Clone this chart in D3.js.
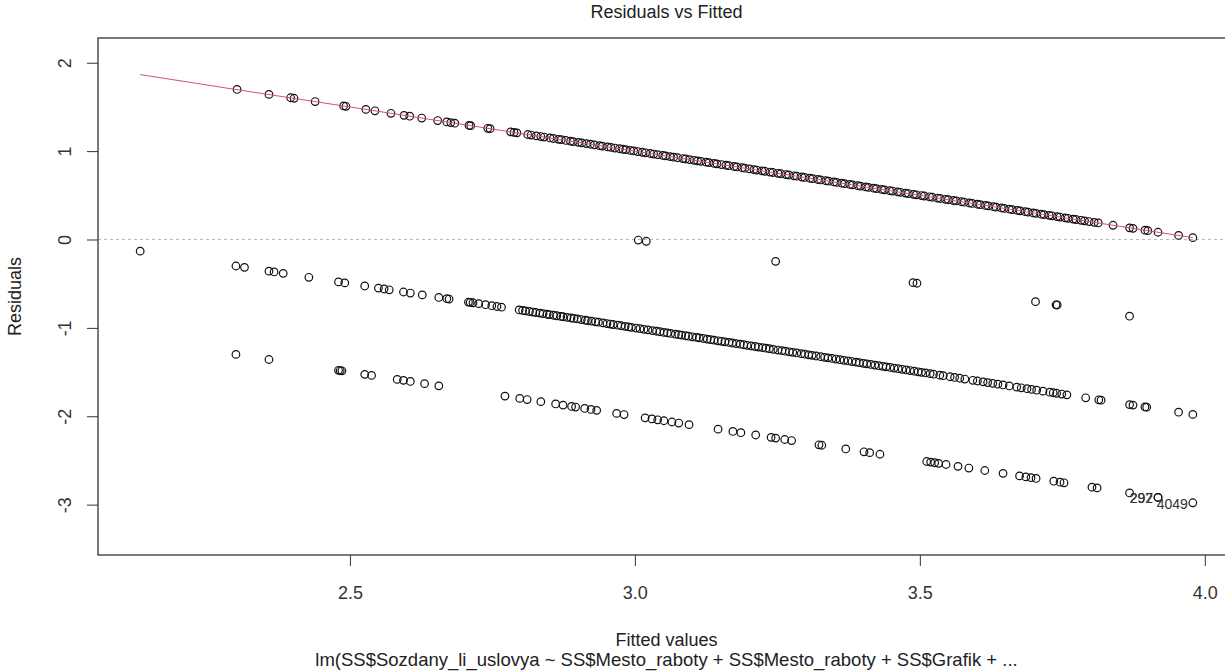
<!DOCTYPE html>
<html>
<head>
<meta charset="utf-8">
<script src="https://cdn.jsdelivr.net/npm/d3@7"></script>
<style>
  body { margin: 0; background: #fff; }
  svg { display: block; font-family: "Liberation Sans", Arial, sans-serif; }
</style>
</head>
<body>
<div id="chart"></div>
<script>
// fitted values of the observations, grouped by the observed response (1..4)
const fittedObs4 = [2.302, 2.358, 2.396, 2.402, 2.439, 2.489, 2.493, 2.528, 2.544, 2.572, 2.595, 2.605,
    2.626, 2.654, 2.670, 2.677, 2.684, 2.709, 2.712, 2.742, 2.746, 2.782, 2.788, 2.793, 2.812, 2.818,
    2.827, 2.835, 2.841, 2.851, 2.857, 2.866, 2.871, 2.879, 2.887, 2.892, 2.901, 2.907, 2.915, 2.922,
    2.929, 2.938, 2.943, 2.952, 2.958, 2.965, 2.973, 2.979, 2.984, 2.992, 2.998, 3.005, 3.013, 3.019,
    3.027, 3.033, 3.040, 3.049, 3.054, 3.062, 3.068, 3.075, 3.084, 3.089, 3.096, 3.104, 3.110, 3.116,
    3.125, 3.130, 3.139, 3.144, 3.152, 3.160, 3.165, 3.174, 3.179, 3.188, 3.193, 3.201, 3.209, 3.214,
    3.223, 3.228, 3.237, 3.242, 3.251, 3.256, 3.265, 3.270, 3.279, 3.284, 3.293, 3.298, 3.307, 3.312,
    3.321, 3.326, 3.335, 3.340, 3.349, 3.354, 3.363, 3.368, 3.377, 3.382, 3.391, 3.396, 3.405, 3.410,
    3.419, 3.424, 3.433, 3.438, 3.447, 3.452, 3.461, 3.466, 3.475, 3.480, 3.489, 3.494, 3.503, 3.508,
    3.517, 3.522, 3.531, 3.536, 3.545, 3.550, 3.559, 3.564, 3.573, 3.578, 3.587, 3.592, 3.601, 3.606,
    3.615, 3.620, 3.629, 3.634, 3.643, 3.648, 3.657, 3.662, 3.671, 3.676, 3.685, 3.690, 3.699, 3.704,
    3.713, 3.718, 3.727, 3.732, 3.741, 3.746, 3.755, 3.760, 3.769, 3.774, 3.783, 3.789, 3.797, 3.806,
    3.813, 3.839, 3.868, 3.874, 3.895, 3.900, 3.918, 3.954, 3.979];

const fittedObs3 = [3.006, 3.020, 3.247, 3.488, 3.495, 3.703, 3.739, 3.741, 3.868];

const fittedObs2 = [2.132, 2.300, 2.315, 2.358, 2.367, 2.383, 2.428, 2.480, 2.491, 2.526, 2.550, 2.560,
    2.569, 2.594, 2.606, 2.627, 2.656, 2.670, 2.674, 2.708, 2.711, 2.716, 2.726, 2.738, 2.749, 2.758,
    2.766, 2.797, 2.803, 2.808, 2.815, 2.821, 2.826, 2.833, 2.839, 2.846, 2.850, 2.857, 2.863, 2.870,
    2.874, 2.881, 2.888, 2.893, 2.899, 2.906, 2.913, 2.917, 2.924, 2.931, 2.936, 2.944, 2.951, 2.957,
    2.962, 2.970, 2.976, 2.983, 2.989, 2.994, 3.002, 3.009, 3.016, 3.023, 3.031, 3.038, 3.044, 3.051,
    3.057, 3.063, 3.071, 3.077, 3.082, 3.089, 3.094, 3.101, 3.108, 3.113, 3.120, 3.127, 3.133, 3.139,
    3.146, 3.152, 3.158, 3.165, 3.171, 3.178, 3.185, 3.191, 3.197, 3.204, 3.211, 3.217, 3.224, 3.230,
    3.236, 3.243, 3.251, 3.258, 3.264, 3.271, 3.277, 3.284, 3.292, 3.298, 3.305, 3.311, 3.318, 3.326,
    3.333, 3.339, 3.346, 3.353, 3.360, 3.367, 3.374, 3.381, 3.388, 3.394, 3.401, 3.407, 3.414, 3.421,
    3.428, 3.435, 3.441, 3.448, 3.455, 3.462, 3.469, 3.476, 3.483, 3.490, 3.497, 3.503, 3.510, 3.518,
    3.524, 3.535, 3.541, 3.553, 3.561, 3.570, 3.579, 3.593, 3.601, 3.611, 3.619, 3.628, 3.637, 3.646,
    3.657, 3.670, 3.678, 3.688, 3.696, 3.705, 3.716, 3.728, 3.734, 3.740, 3.749, 3.758, 3.791, 3.814,
    3.818, 3.868, 3.874, 3.895, 3.898, 3.954, 3.979];

const fittedObs1 = [2.300, 2.358, 2.480, 2.483, 2.486, 2.526, 2.538, 2.583, 2.594, 2.606, 2.631, 2.656,
    2.772, 2.798, 2.811, 2.835, 2.861, 2.874, 2.889, 2.896, 2.912, 2.923, 2.933, 2.968, 2.981, 3.018,
    3.030, 3.040, 3.051, 3.065, 3.077, 3.095, 3.146, 3.172, 3.186, 3.212, 3.239, 3.247, 3.263, 3.275,
    3.323, 3.328, 3.370, 3.402, 3.412, 3.430, 3.512, 3.519, 3.526, 3.533, 3.546, 3.567, 3.586, 3.614,
    3.646, 3.675, 3.686, 3.695, 3.704, 3.735, 3.746, 3.753, 3.802, 3.811, 3.868, 3.918, 3.918, 3.979];

// red smoother
const smoothFitted = [2.132, 2.302, 2.500, 2.750, 3.000, 3.250, 3.500, 3.750, 3.979];
const smoothResid = [1.866, 1.695, 1.500, 1.250, 1.000, 0.750, 0.500, 0.250, 0.021];

// labelled extreme points
const idLabels = ["297", "292", "4049"];
const idFitted = [3.918, 3.918, 3.979];
const idResid = [-2.918, -2.918, -2.979];

const xTicks = [2.5, 3.0, 3.5, 4.0];
const yTicks = [-3, -2, -1, 0, 1, 2];

const points = [];
[[1, fittedObs1], [2, fittedObs2], [3, fittedObs3], [4, fittedObs4]].forEach(([obs, fv]) => {
    fv.forEach(f => points.push({ fitted: f, resid: obs - f }));
});

const width = 1225, height = 672;
const margin = { top: 38, right: -10, bottom: 117, left: 98 };
const font = "Liberation Sans, Arial, sans-serif";

const svg = d3.select("#chart")
    .append("svg")
    .attr("width", width)
    .attr("height", height);

svg.append("rect")
    .attr("width", width)
    .attr("height", height)
    .attr("fill", "#fff");

const x = d3.scaleLinear()
    .domain([2.058, 4.053])
    .range([margin.left, width - margin.right]);

const y = d3.scaleLinear()
    .domain([-3.57, 2.28])
    .range([height - margin.bottom, margin.top]);

const plotCenter = (margin.left + width - margin.right) / 2;

// zero reference line
svg.append("line")
    .attr("x1", margin.left)
    .attr("x2", width - margin.right)
    .attr("y1", y(0))
    .attr("y2", y(0))
    .attr("stroke", "#b8b8b8")
    .attr("stroke-width", 1)
    .attr("stroke-dasharray", "3,3");

svg.append("g")
    .selectAll("circle")
    .data(points)
    .join("circle")
    .attr("cx", d => x(d.fitted))
    .attr("cy", d => y(d.resid))
    .attr("r", 3.8)
    .attr("fill", "none")
    .attr("stroke", "#111")
    .attr("stroke-width", 1.2);

const smooth = smoothFitted.map((f, i) => [f, smoothResid[i]]);
svg.append("path")
    .datum(smooth)
    .attr("d", d3.line().x(d => x(d[0])).y(d => y(d[1])))
    .attr("fill", "none")
    .attr("stroke", "#d2566c")
    .attr("stroke-width", 1);

svg.append("g")
    .selectAll("text")
    .data(idLabels)
    .join("text")
    .attr("x", (d, i) => x(idFitted[i]) - 5)
    .attr("y", (d, i) => y(idResid[i]) + 6)
    .attr("text-anchor", "end")
    .attr("font-size", "14px")
    .attr("fill", "#333")
    .text(d => d);

// plot box
svg.append("rect")
    .attr("x", margin.left)
    .attr("y", margin.top)
    .attr("width", width - margin.right - margin.left)
    .attr("height", height - margin.bottom - margin.top)
    .attr("fill", "none")
    .attr("stroke", "#333")
    .attr("stroke-width", 1.3);

const xAxis = svg.append("g")
    .attr("transform", `translate(0,${height - margin.bottom})`)
    .call(d3.axisBottom(x).tickValues(xTicks).tickFormat(d3.format(".1f")).tickSize(11).tickPadding(20));
xAxis.select(".domain").remove();
xAxis.selectAll("line").attr("stroke", "#333");
xAxis.selectAll("text")
    .attr("font-family", font)
    .attr("font-size", "18px")
    .attr("fill", "#333");

const yAxis = svg.append("g")
    .attr("transform", `translate(${margin.left},0)`)
    .call(d3.axisLeft(y).tickValues(yTicks).tickFormat(d => String(d)).tickSize(11).tickPadding(0));
yAxis.select(".domain").remove();
yAxis.selectAll("line").attr("stroke", "#333");
yAxis.selectAll("text")
    .attr("font-family", font)
    .attr("font-size", "18px")
    .attr("fill", "#333")
    .attr("text-anchor", "middle")
    .attr("transform", "translate(-33,0) rotate(-90)")
    .attr("x", 0)
    .attr("dy", "0.35em");

svg.append("text")
    .attr("x", plotCenter)
    .attr("y", 18)
    .attr("text-anchor", "middle")
    .attr("font-size", "18px")
    .attr("fill", "#222")
    .text("Residuals vs Fitted");

svg.append("text")
    .attr("x", plotCenter)
    .attr("y", 646)
    .attr("text-anchor", "middle")
    .attr("font-size", "18px")
    .attr("fill", "#222")
    .text("Fitted values");

svg.append("text")
    .attr("x", plotCenter)
    .attr("y", 666)
    .attr("text-anchor", "middle")
    .attr("font-size", "18.5px")
    .attr("fill", "#222")
    .text("lm(SS$Sozdany_li_uslovya ~ SS$Mesto_raboty + SS$Mesto_raboty + SS$Grafik +  ...");

svg.append("text")
    .attr("transform", `translate(21,${(margin.top + height - margin.bottom) / 2}) rotate(-90)`)
    .attr("text-anchor", "middle")
    .attr("font-size", "18px")
    .attr("fill", "#222")
    .text("Residuals");
</script>
</body>
</html>
